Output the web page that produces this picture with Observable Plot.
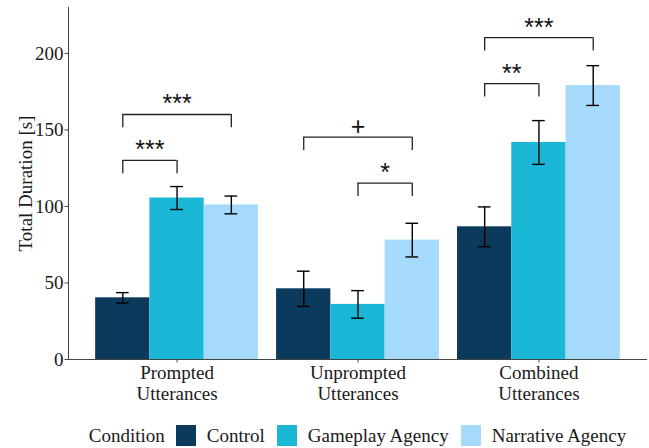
<!DOCTYPE html>
<html>
<head>
<meta charset="utf-8">
<script src="https://cdn.jsdelivr.net/npm/d3@7"></script>
<script src="https://cdn.jsdelivr.net/npm/@observablehq/plot@0.6"></script>
<style>
  body { margin: 0; background: #fff; }
  #chart svg { display: block; font-family: "Liberation Serif", serif; }
  #legend {
    display: flex; align-items: center; justify-content: center;
    margin-left: 68px; width: 579px; height: 51px;
    font-family: "Liberation Serif", serif; font-size: 19px; color: #1a1a1a;
  }
  #legend .title { margin-right: 11px; }
  #legend .sw { width: 20.6px; height: 20.6px; margin-right: 10.4px; }
  #legend .lab { margin-right: 12px; }
  #legend .lab:last-child { margin-right: 0; }
</style>
</head>
<body>
<div id="chart"></div>
<div id="legend"></div>
<script>
// ---- data ----
const groups = ["Prompted\nUtterances", "Unprompted\nUtterances", "Combined\nUtterances"];
const conditions = ["Control", "Gameplay Agency", "Narrative Agency"];
const colors = ["#0c3a5d", "#1ab7d6", "#a6dafc"];

const controlMean   = [40.3, 46.2, 86.7];
const gameplayMean  = [105.5, 36.0, 141.8];
const narrativeMean = [101.0, 78.0, 179.0];
const controlErr    = [3.4, 11.5, 13.0];
const gameplayErr   = [7.5, 9.0, 14.3];
const narrativeErr  = [5.8, 11.0, 13.0];

// significance brackets
const sigGroup = [0, 0, 1, 1, 2, 2];
const sigFrom  = [0, 0, 0, 1, 0, 0];
const sigTo    = [1, 2, 2, 2, 1, 2];
const sigY     = [130.1, 160.1, 145.3, 115.2, 180.2, 210.3];
const sigLabel = ["***", "***", "+", "*", "**", "***"];
const tipLength = 8.7;

const yTicks = [0, 50, 100, 150, 200];

// ---- build tables ----
const dodge = 0.3;        // 0.9 group width / 3 bars
const pos = (g, c) => g + 1 + (c - 1) * dodge;
const meansByCond = [controlMean, gameplayMean, narrativeMean];
const errsByCond = [controlErr, gameplayErr, narrativeErr];

const bars = [];
groups.forEach((grp, g) => {
  conditions.forEach((cond, c) => {
    const m = meansByCond[c][g], e = errsByCond[c][g];
    bars.push({g, c, condition: cond, x: pos(g, c), mean: m, lo: m - e, hi: m + e});
  });
});

const sigs = sigY.map((y, i) => ({
  x1: pos(sigGroup[i], sigFrom[i]),
  x2: pos(sigGroup[i], sigTo[i]),
  y, yTip: y - tipLength, label: sigLabel[i]
}));

const capHalf = 0.035;
const SERIF = "'Liberation Serif', serif";
const SANS = "'Liberation Sans', Arial, sans-serif";

const chart = Plot.plot({
  width: 649,
  height: 410,
  marginLeft: 68,
  marginRight: 2,
  marginTop: 7,
  marginBottom: 51,
  style: { fontFamily: SERIF, color: "#2a2a2a", background: "#fff" },
  x: { domain: [0.4, 3.6], axis: null },
  y: { domain: [0, 230], axis: null },
  color: { domain: conditions, range: colors },
  marks: [
    Plot.rectY(bars, { x1: d => d.x - dodge / 2, x2: d => d.x + dodge / 2, y1: 0, y2: "mean", fill: "condition" }),
    // error bars
    Plot.ruleX(bars, { x: "x", y1: "lo", y2: "hi", stroke: "#000", strokeWidth: 1.4 }),
    Plot.ruleY(bars, { y: "hi", x1: d => d.x - capHalf, x2: d => d.x + capHalf, stroke: "#000", strokeWidth: 1.4 }),
    Plot.ruleY(bars, { y: "lo", x1: d => d.x - capHalf, x2: d => d.x + capHalf, stroke: "#000", strokeWidth: 1.4 }),
    // significance brackets
    Plot.ruleY(sigs, { y: "y", x1: "x1", x2: "x2", stroke: "#222", strokeWidth: 1.3 }),
    Plot.ruleX(sigs, { x: "x1", y1: "yTip", y2: "y", stroke: "#222", strokeWidth: 1.3 }),
    Plot.ruleX(sigs, { x: "x2", y1: "yTip", y2: "y", stroke: "#222", strokeWidth: 1.3 }),
    Plot.text(sigs, { x: d => (d.x1 + d.x2) / 2, y: "y", text: "label", lineAnchor: "bottom", dy: -2,
      fontFamily: SANS, fontSize: 25, fill: "#111" }),
    // axes
    Plot.ruleX([0.4], { stroke: "#444", strokeWidth: 1 }),
    Plot.ruleY([0], { stroke: "#444", strokeWidth: 1 }),
    Plot.axisY({ ticks: yTicks, tickSize: 3.5, tickPadding: 1.5, fontSize: 19, fontFamily: SERIF,
      label: null, stroke: "#444", fill: "#1a1a1a" }),
    Plot.axisX({ ticks: [1, 2, 3], tickFormat: i => groups[i - 1], tickSize: 3.5, tickPadding: 1,
      fontSize: 19, fontFamily: SERIF, lineHeight: 1.1, label: null, stroke: "#444", fill: "#1a1a1a" }),
    Plot.text(["Total Duration [s]"], { frameAnchor: "left", dx: -36.5, rotate: -90, lineAnchor: "bottom",
      textAnchor: "middle", fontSize: 19, fontFamily: SERIF, fill: "#1a1a1a" })
  ]
});
document.getElementById("chart").appendChild(chart);

// ---- legend ----
const legend = document.getElementById("legend");
const t = document.createElement("span");
t.className = "title"; t.textContent = "Condition";
legend.appendChild(t);
conditions.forEach((c, i) => {
  const sw = document.createElement("span");
  sw.className = "sw"; sw.style.background = colors[i];
  const lab = document.createElement("span");
  lab.className = "lab"; lab.textContent = c;
  legend.appendChild(sw); legend.appendChild(lab);
});
</script>
</body>
</html>
